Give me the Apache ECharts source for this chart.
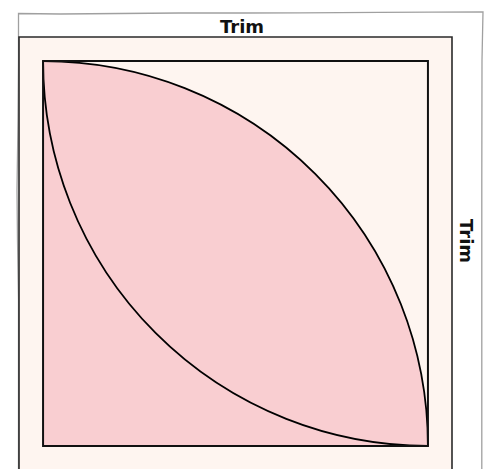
<!DOCTYPE html>
<html>
<head>
<meta charset="utf-8">
<script src="https://cdn.jsdelivr.net/npm/echarts@6/dist/echarts.min.js"></script>
<style>
  html, body { margin: 0; padding: 0; background: #ffffff; overflow: hidden; }
  #chart { width: 488px; height: 490px; }
</style>
</head>
<body>
<div id="chart"></div>
<script>
// ---- data (units: block side = 8) ----
const blockSide = 8;
const trimMargin = 0.5;
const blockCorners = [[0, 0], [8, 8]];          // lower-left, upper-right of block
const trimCorners = [[-0.5, -0.5], [8.5, 8.5]]; // trim outline
const filledArcCenter = [0, 0];                 // quarter disc (pink petal)
const lineArcCenter = [8, 8];                   // second arc (line only)
const arcRadius = 8;
const titleText = 'Trim';
const sideText = 'Trim';

const pink = '#f9ced1';
const cream = '#fef5f0';

const chart = echarts.init(document.getElementById('chart'), null, { renderer: 'svg' });

function rectFrom(api, a, b) {
  const p1 = api.coord([a[0], b[1]]);
  const p2 = api.coord([b[0], a[1]]);
  return { x: p1[0], y: p1[1], width: p2[0] - p1[0], height: p2[1] - p1[1] };
}

const option = {
  animation: false,
  grid: { left: 19, top: 37, width: 433, height: 433 },
  xAxis: { type: 'value', min: -0.5, max: 8.5, show: false },
  yAxis: { type: 'value', min: -0.5, max: 8.5, show: false },
  graphic: [
    {
      type: 'polyline', z: 1, silent: true,
      shape: { points: [[18.5, 490], [18.5, 300], [17.5, 240], [17, 190], [18, 120], [18.5, 60], [18.5, 13.5],
                        [60, 14], [120, 13.5], [180, 13], [244, 13], [300, 12.8], [380, 12.3], [483, 11.8],
                        [482, 60], [481.8, 180], [481.8, 300], [481.8, 490]] },
      style: { stroke: '#a0a0a0', lineWidth: 1.3, fill: null }
    },
    {
      type: 'text', x: 242, y: 26, z: 10,
      style: { text: titleText, font: 'bold 18px "DejaVu Sans"', fill: '#111', textAlign: 'center', textVerticalAlign: 'middle' }
    },
    {
      type: 'text', x: 466, y: 241, rotation: -Math.PI / 2, z: 10,
      style: { text: sideText, font: 'bold 18px "DejaVu Sans"', fill: '#111', textAlign: 'center', textVerticalAlign: 'middle' }
    }
  ],
  series: [
    {
      type: 'custom',
      coordinateSystem: 'cartesian2d',
      data: [[trimCorners[0][0], trimCorners[0][1], trimCorners[1][0], trimCorners[1][1]]],
      renderItem: function (params, api) {
        const r = rectFrom(api, trimCorners[0], trimCorners[1]);
        return { type: 'rect', shape: r, style: { fill: cream, stroke: '#2a2a2a', lineWidth: 1.6 } };
      },
      z: 2, silent: true
    },
    {
      type: 'custom',
      coordinateSystem: 'cartesian2d',
      data: [[blockCorners[0][0], blockCorners[0][1], blockCorners[1][0], blockCorners[1][1]]],
      renderItem: function (params, api) {
        const sq = rectFrom(api, blockCorners[0], blockCorners[1]);
        const c1 = api.coord(filledArcCenter);
        const c2 = api.coord(lineArcCenter);
        const rad = api.size([arcRadius, arcRadius])[0];
        return {
          type: 'group',
          children: [
            { type: 'rect', shape: sq, style: { fill: cream } },
            { type: 'sector', shape: { cx: c1[0], cy: c1[1], r: rad, r0: 0, startAngle: -Math.PI / 2, endAngle: 0, clockwise: true },
              style: { fill: pink } },
            { type: 'arc', shape: { cx: c1[0], cy: c1[1], r: rad, startAngle: -Math.PI / 2, endAngle: 0, clockwise: true },
              style: { stroke: '#000', lineWidth: 1.8, fill: null } },
            { type: 'arc', shape: { cx: c2[0], cy: c2[1], r: rad, startAngle: Math.PI / 2, endAngle: Math.PI, clockwise: true },
              style: { stroke: '#000', lineWidth: 1.8, fill: null } },
            { type: 'rect', shape: sq, style: { fill: null, stroke: '#111', lineWidth: 2 } }
          ]
        };
      },
      z: 3, silent: true
    }
  ]
};
chart.setOption(option);
</script>
</body>
</html>
